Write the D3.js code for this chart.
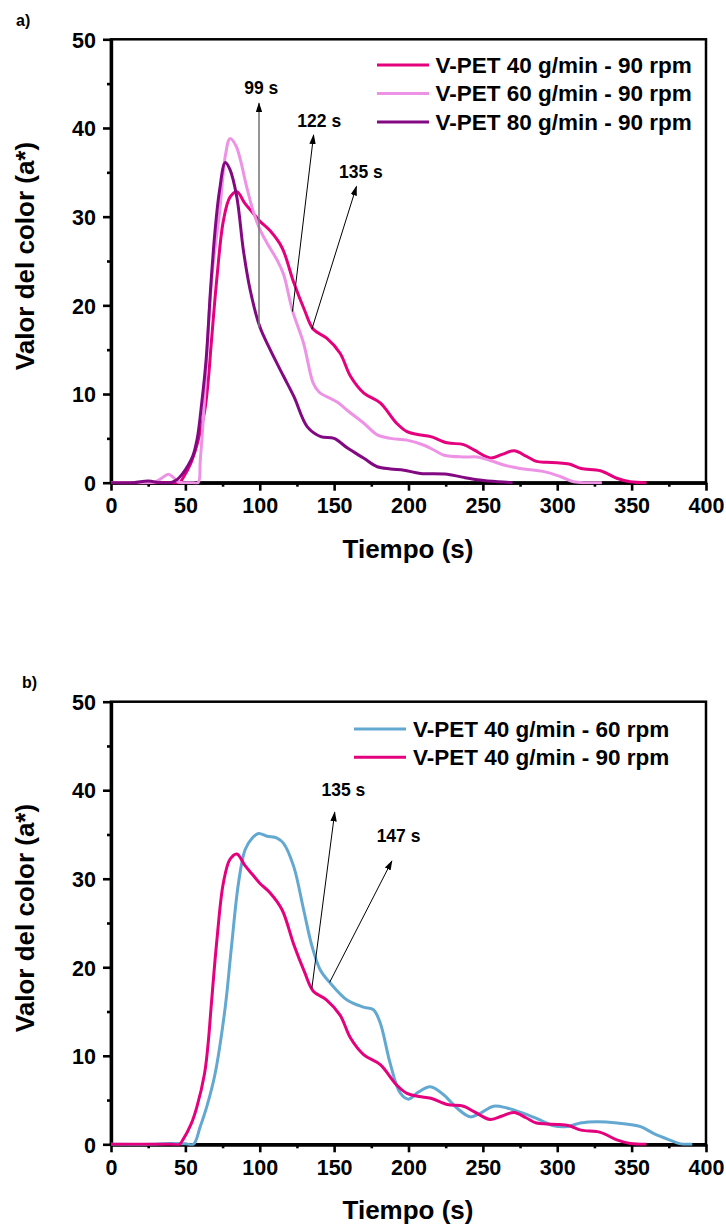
<!DOCTYPE html>
<html>
<head>
<meta charset="utf-8">
<script src="https://cdn.jsdelivr.net/npm/d3@7"></script>
<style>
  html, body { margin: 0; padding: 0; background: #fff; }
  svg { display: block; font-family: "Liberation Sans", Arial, Helvetica, sans-serif; font-weight: bold; }
</style>
</head>
<body>
<svg id="chart" width="726" height="1229"></svg>
<script>
// ---------------- DATA ----------------
const xTicks = [0, 50, 100, 150, 200, 250, 300, 350, 400];
const xMinorTicks = [25, 75, 125, 175, 225, 275, 325, 375];
const yTicks = [0, 10, 20, 30, 40, 50];
const yMinorTicks = [5, 15, 25, 35, 45];

// V-PET 40 g/min - 90 rpm
const tM40r90 = [0, 10, 20, 30, 40, 46, 48.3, 53.9, 57.7, 62.9, 65.5, 67.3, 71.2, 75.5, 80, 84.6, 90, 95, 100, 107, 115, 122.8, 130, 136, 145, 154, 161, 170, 181, 192, 199, 207, 215, 226, 237, 244, 255, 263, 271, 279, 286, 293, 300, 308, 316, 329, 340, 349, 360];
const vM40r90 = [0, 0, 0, 0, 0, 0, 0.5, 2.3, 4.2, 8, 11.75, 15.5, 23.1, 29.5, 32.2, 32.8, 31.5, 30.5, 29.5, 28.4, 26.5, 22.6, 19.5, 17.3, 16.3, 14.6, 12.0, 10.1, 9.0, 6.7, 5.75, 5.4, 5.2, 4.5, 4.3, 3.7, 2.8, 3.2, 3.6, 3.0, 2.4, 2.3, 2.25, 2.1, 1.6, 1.35, 0.5, 0.1, 0];

// V-PET 60 g/min - 90 rpm
const tM60r90 = [0, 25, 30, 34, 38.5, 42, 45, 50, 55, 58.6, 60, 62, 64, 66, 68, 70, 73, 77, 80, 84, 87, 91, 96, 100, 105, 112, 116, 122, 129.5, 136, 140, 145, 152, 160, 170, 179, 188, 199, 210, 218, 224, 237, 246, 255, 264, 275, 291, 302, 311, 320, 330];
const vM60r90 = [0, 0, 0.1, 0.5, 0.95, 0.6, 0.1, 0, 0, 0, 2.5, 7, 13, 19, 23.5, 26.5, 30.5, 37, 38.8, 38, 36.4, 33.5, 30.4, 28.6, 27.0, 25.0, 23.5, 19.4, 15.7, 11.2, 10.2, 9.7, 9.1, 8.0, 6.7, 5.4, 5.0, 4.8, 4.25, 3.6, 3.1, 2.9, 2.9, 2.5, 2.0, 1.6, 1.25, 0.7, 0.1, 0, 0];

// V-PET 80 g/min - 90 rpm
const tM80r90 = [0, 15, 25, 33, 40, 44, 48, 52, 55, 58, 61, 64, 67, 70, 73, 76.8, 80, 84.6, 89, 93.6, 100, 107, 116, 123, 132, 141, 150, 159, 170, 179, 188, 197, 208, 226, 237, 248, 260, 270];
const vM80r90 = [0, 0, 0.2, 0, 0, 0.3, 1.0, 2.0, 3.0, 5, 9, 14, 22, 28.5, 33, 36.1, 35.3, 32.2, 26.2, 21.7, 17.6, 15.0, 12.0, 9.7, 6.3, 5.2, 5.0, 3.9, 2.75, 1.8, 1.55, 1.4, 1.05, 0.95, 0.6, 0.3, 0.1, 0];

// V-PET 40 g/min - 60 rpm
const tM40r60 = [0, 30, 40, 50, 55.4, 60, 64.4, 70, 76.8, 80.8, 85.7, 90.2, 95, 99.2, 105, 111.6, 116, 122.8, 129.5, 135.1, 140.7, 147.5, 158.7, 169.7, 176.4, 181, 187.6, 194.4, 200, 206.7, 214.6, 223.6, 232.5, 241.5, 248.2, 257.2, 266.2, 277.4, 286.4, 297.6, 306.6, 315.6, 326.8, 340.3, 356, 365, 376.2, 382.9, 390.8];
const vM40r60 = [0, 0, 0.1, 0.05, 0, 2, 4.25, 8, 15.5, 22, 29.5, 33.3, 34.6, 35.1, 34.8, 34.6, 34.0, 31.4, 26.5, 22.4, 19.7, 18.2, 16.3, 15.5, 15.2, 13.7, 9.2, 5.8, 5.1, 5.9, 6.5, 5.6, 4.1, 3.1, 3.5, 4.3, 4.1, 3.5, 2.9, 2.1, 2.0, 2.4, 2.55, 2.4, 2.0, 1.2, 0.45, 0.05, 0];

// Legend labels
const legendTop = ["V-PET 40 g/min - 90 rpm", "V-PET 60 g/min - 90 rpm", "V-PET 80 g/min - 90 rpm"];
const legendBottom = ["V-PET 40 g/min - 60 rpm", "V-PET 40 g/min - 90 rpm"];

// Annotations: label, start (t, v) on curve, arrow tip (t, v), label position (t, v)
const annTopLabels = ["99 s", "122 s", "135 s"];
const annTopStart = [[99.5, 17.5], [122, 19.3], [135, 17.3]];
const annTopTip = [[99.5, 42.8], [136.2, 39.2], [165, 33.4]];
const annTopText = [[101, 43.8], [140, 40.1], [168, 34.4]];

const annBotLabels = ["135 s", "147 s"];
const annBotStart = [[135, 17.6], [147, 18.3]];
const annBotTip = [[150.4, 37.5], [188.8, 32.0]];
const annBotText = [[156.2, 39.4], [193.3, 34.1]];

const xTitle = "Tiempo (s)";
const yTitle = "Valor del color (a*)";

// ---------------- DRAW ----------------
const colMagenta = "#E5007D";
const colLightPink = "#EE92E6";
const colPurple = "#830983";
const colBlue = "#62A8D0";

const svg = d3.select("#chart");
const defs = svg.append("defs");
defs.append("marker").attr("id", "arrowBlack")
  .attr("viewBox", "0 0 10 10").attr("refX", 9).attr("refY", 5)
  .attr("markerWidth", 10).attr("markerHeight", 10).attr("markerUnits", "userSpaceOnUse")
  .attr("orient", "auto")
  .append("path").attr("d", "M0,1.8 L10,5 L0,8.2 Z").attr("fill", "#000");

let panelId = 0;
function drawPanel(cfg) {
  panelId++;
  const g = svg.append("g");
  const x = d3.scaleLinear().domain([0, 400]).range([111, 706]);
  const y = d3.scaleLinear().domain([0, 50]).range([cfg.y0, cfg.y50]);

  defs.append("clipPath").attr("id", "clip" + panelId)
    .append("rect").attr("x", x(0)).attr("y", y(50))
    .attr("width", x(400) - x(0)).attr("height", y(0) - y(50) + 1.5);

  // frame (top/right)
  g.append("rect").attr("x", x(0)).attr("y", y(50))
    .attr("width", x(400) - x(0)).attr("height", y(0) - y(50))
    .attr("fill", "none").attr("stroke", "#000").attr("stroke-width", 2.5);

  // axes
  const xAxis = d3.axisBottom(x).tickValues(xTicks).tickSize(8).tickSizeOuter(0).tickPadding(7);
  const xMinor = d3.axisBottom(x).tickValues(xMinorTicks).tickSize(4).tickSizeOuter(0).tickFormat("");
  const yAxis = d3.axisLeft(y).tickValues(yTicks).tickSize(8).tickSizeOuter(0).tickPadding(7);
  const yMinor = d3.axisLeft(y).tickValues(yMinorTicks).tickSize(4).tickSizeOuter(0).tickFormat("");

  const gx = g.append("g").attr("transform", `translate(0,${y(0)})`).call(xAxis);
  g.append("g").attr("transform", `translate(0,${y(0)})`).call(xMinor);
  const gy = g.append("g").attr("transform", `translate(${x(0)},0)`).call(yAxis);
  g.append("g").attr("transform", `translate(${x(0)},0)`).call(yMinor);

  g.selectAll(".domain").attr("stroke", "#000").attr("stroke-width", 3.2);
  g.selectAll(".tick line").attr("stroke", "#000").attr("stroke-width", 2.6);
  g.selectAll(".tick text").attr("fill", "#000")
    .style("font-size", "21.5px").style("font-weight", "bold")
    .style("font-family", '"Liberation Sans", Arial, sans-serif');
  gx.selectAll(".tick text").attr("dy", "0.71em");
  gy.selectAll(".tick text").attr("dy", "0.36em");

  // series (drawn over axes)
  const line = d3.line().curve(d3.curveCatmullRom.alpha(0.5)).x(d => x(d[0])).y(d => y(d[1]));
  const gs = g.append("g").attr("clip-path", `url(#clip${panelId})`);
  cfg.series.forEach(s => {
    const pts = s.t.map((t, i) => [t, s.v[i]]);
    gs.append("path").attr("d", line(pts)).attr("fill", "none")
      .attr("stroke", s.color).attr("stroke-width", 3).attr("stroke-linejoin", "round");
  });

  // titles
  g.append("text").attr("x", 408).attr("y", y(0) + 75)
    .attr("text-anchor", "middle").style("font-size", "26px").text(xTitle);
  g.append("text")
    .attr("transform", `translate(34,${(y(0) + y(50)) / 2 - 5}) rotate(-90)`)
    .attr("text-anchor", "middle").style("font-size", "26px").text(yTitle);

  // panel label
  g.append("text").attr("x", cfg.labelX).attr("y", cfg.labelY)
    .style("font-size", "16px").text(cfg.label);

  // legend
  cfg.legend.forEach((name, i) => {
    const ly = cfg.legY + i * cfg.legStep;
    g.append("line").attr("x1", cfg.legX1).attr("x2", cfg.legX2)
      .attr("y1", ly).attr("y2", ly)
      .attr("stroke", cfg.legColors[i]).attr("stroke-width", 3);
    g.append("text").attr("x", cfg.legTextX).attr("y", ly + 7.8)
      .style("font-size", "22.5px").text(name);
  });

  // annotations
  cfg.ann.labels.forEach((lab, i) => {
    const s = cfg.ann.start[i], tp = cfg.ann.tip[i], tx = cfg.ann.text[i];
    const gray = cfg.ann.gray && cfg.ann.gray[i];
    g.append("line")
      .attr("x1", x(s[0])).attr("y1", y(s[1]))
      .attr("x2", x(tp[0])).attr("y2", y(tp[1]))
      .attr("stroke", gray ? "#7a7a7a" : "#000")
      .attr("stroke-width", gray ? 1.6 : 1)
      .attr("marker-end", "url(#arrowBlack)");
    g.append("text").attr("x", x(tx[0])).attr("y", y(tx[1]))
      .attr("text-anchor", "middle").style("font-size", "17.5px").text(lab);
  });
}

drawPanel({
  y0: 482.7, y50: 39.3,
  label: "a)", labelX: 16, labelY: 26,
  series: [
    { t: tM40r90, v: vM40r90, color: colMagenta },
    { t: tM60r90, v: vM60r90, color: colLightPink },
    { t: tM80r90, v: vM80r90, color: colPurple }
  ],
  legend: legendTop, legColors: [colMagenta, colLightPink, colPurple],
  legX1: 377, legX2: 429, legTextX: 435.5, legY: 65, legStep: 28.5,
  ann: { labels: annTopLabels, start: annTopStart, tip: annTopTip, text: annTopText, gray: [true, false, false] }
});

drawPanel({
  y0: 1144.3, y50: 701.7,
  label: "b)", labelX: 22, labelY: 688,
  series: [
    { t: tM40r60, v: vM40r60, color: colBlue },
    { t: tM40r90, v: vM40r90, color: colMagenta }
  ],
  legend: legendBottom, legColors: [colBlue, colMagenta],
  legX1: 354, legX2: 406, legTextX: 413, legY: 729, legStep: 28.3,
  ann: { labels: annBotLabels, start: annBotStart, tip: annBotTip, text: annBotText }
});
</script>
</body>
</html>
